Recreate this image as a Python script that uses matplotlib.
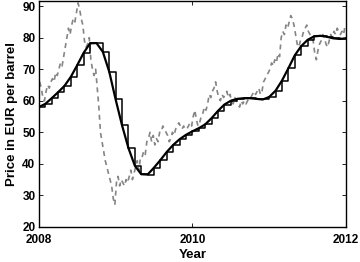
import matplotlib
matplotlib.use("Agg")
import matplotlib.pyplot as plt
import numpy as np

plt.rcParams["font.family"] = ["Liberation Sans", "DejaVu Sans"]
plt.rcParams["font.weight"] = "bold"

# daily-ish oil price in EUR, four readings per month, Jan 2008 .. Dec 2011
spot_2008 = [66, 64, 61, 60, 63, 65, 64, 66, 67, 66, 69, 68,
             70, 72, 71, 74, 77, 80, 83, 81, 84, 86, 85, 88,
             91, 89, 86, 84, 79, 77, 78, 80, 73, 70, 68, 70,
             64, 58, 50, 47, 44, 41, 39, 37, 35, 33, 29, 27]
spot_2009 = [34, 36, 33, 35, 34, 33, 35, 34, 36, 38, 35, 37,
             39, 41, 38, 42, 42, 44, 43, 47, 48, 50, 47, 49,
             46, 48, 47, 50, 50, 52, 51, 50, 49, 47, 48, 50,
             49, 51, 52, 53, 52, 51, 52, 51, 51, 52, 53, 52]
spot_2010 = [55, 57, 54, 52, 53, 55, 56, 58, 57, 59, 62, 61,
             63, 64, 66, 63, 61, 60, 62, 61, 62, 63, 61, 62,
             60, 59, 61, 60, 59, 58, 60, 59, 60, 59, 60, 61,
             61, 62, 63, 62, 63, 64, 62, 63, 66, 67, 68, 69]
spot_2011 = [70, 72, 71, 73, 72, 75, 74, 80, 82, 81, 84, 83,
             85, 87, 86, 84, 81, 78, 77, 79, 80, 82, 83, 84,
             82, 81, 80, 79, 75, 73, 76, 78, 79, 81, 80, 78,
             77, 79, 81, 80, 82, 81, 83, 82, 81, 82, 81, 84]
spot = spot_2008 + spot_2009 + spot_2010 + spot_2011

# smooth trend, value at the start of each month (Jan 2008 .. Jan 2012)
trend = [58.0, 59.0, 60.8, 62.7, 64.7, 67.6, 71.3, 75.2, 78.2, 78.3, 75.5, 69.2,
         60.4, 52.2, 45.0, 39.4, 36.7, 36.6, 38.8, 41.2, 43.8, 46.0, 47.8, 49.2,
         50.3, 51.3, 52.5, 54.5, 56.8, 58.8, 60.0, 60.6, 60.8, 60.8, 60.6, 60.4,
         61.2, 63.2, 66.4, 70.3, 74.4, 77.3, 79.3, 80.4, 80.6, 80.3, 79.8, 79.6,
         79.8]

years = [2008, 2010, 2012]
yticks = [20, 30, 40, 50, 60, 70, 80, 90]

t_spot = 2008 + (np.arange(len(spot)) + 0.5) / 48.0
t_month = 2008 + np.arange(len(trend)) / 12.0

fig = plt.figure(figsize=(3.6, 2.62), dpi=100)
ax = fig.add_axes([0.108, 0.134, 0.853, 0.863])

ax.plot(t_spot, spot, "--", color="#858585", linewidth=1.2, dashes=(3, 2.5))
ax.step(t_month, trend, where="post", color="black", linewidth=1.1)
ax.plot(t_month, trend, color="black", linewidth=1.6)

ax.set_xlim(2008, 2012)
ax.set_ylim(20, 91.7)
ax.set_xticks(years)
ax.set_yticks(yticks)
ax.tick_params(axis="both", direction="in", top=True, right=True, length=3,
               width=0.6, labelsize=8.5)
ax.tick_params(axis="x", pad=5)
ax.tick_params(axis="y", pad=2.5)
for lab in ax.get_xticklabels() + ax.get_yticklabels():
    lab.set_fontweight("bold")
for s in ax.spines.values():
    s.set_linewidth(1.0)

ax.set_xlabel("Year", fontsize=9.5, fontweight="bold", labelpad=2)
ax.set_ylabel("Price in EUR per barrel", fontsize=9.5, fontweight="bold", labelpad=3)

fig.savefig("out.png", dpi=100)
